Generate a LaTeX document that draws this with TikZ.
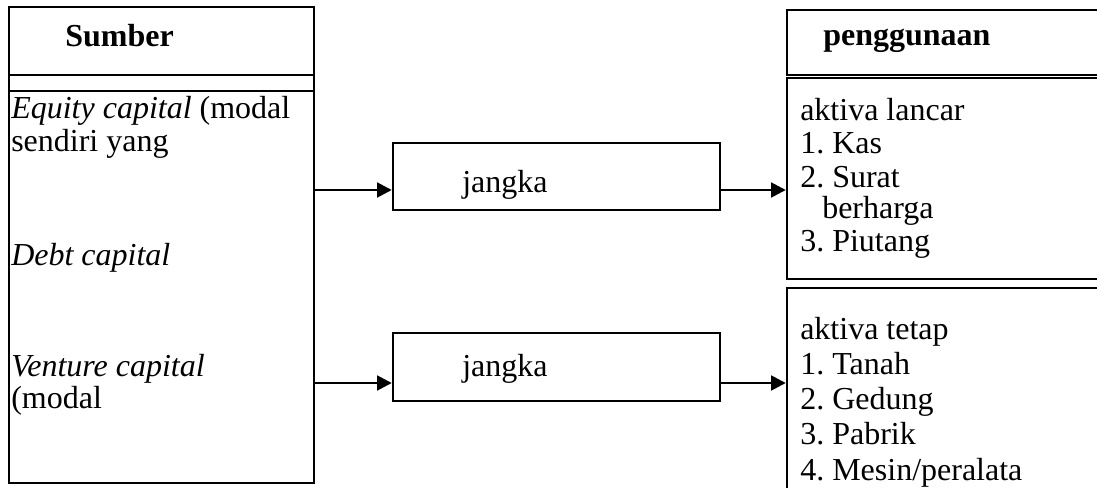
\documentclass[tikz,border=0pt]{standalone}
\usepackage{fontspec}
\setmainfont{Liberation Serif}
\usetikzlibrary{arrows.meta}
\frenchspacing

\tikzset{
  box/.style={draw=black, line width=1.8pt, inner sep=0pt, rectangle},
  conn/.style={line width=2pt, -{Triangle[length=11pt,width=11pt]}},
  txt/.style={anchor=base west, inner sep=0pt, font=\fontsize{24}{24}\selectfont},
  head/.style={txt, font=\fontsize{24}{24}\selectfont\bfseries},
}

\begin{document}
\begin{tikzpicture}[x=0.75pt, y=-0.75pt]
  \useasboundingbox (0,0) rectangle (1097,488);
  \clip (0,0) rectangle (1097,488);

  % rows where the connectors run
  \coordinate (row1) at (0,190);
  \coordinate (row2) at (0,383);

  % source column
  \node[box, minimum width=305*0.75pt, minimum height=476*0.75pt] (src) at (161.5,245) {};
  \draw[line width=1.8pt] (src.west |- 0,75) -- (src.east |- 0,75);
  \draw[line width=1.8pt] (src.west |- 0,91) -- (src.east |- 0,91);
  \node[head] (srchead) at (65,47) {Sumber};
  \node[txt] (s1) at (11,119) {\textit{Equity capital} (modal};
  \node[txt] (s2) at (11,152) {sendiri yang};
  \node[txt] (s3) at (11,266) {\textit{Debt capital}};
  \node[txt] (s4) at (11,377) {\textit{Venture capital}};
  \node[txt] (s5) at (11,409) {(modal};

  % term boxes
  \node[box, minimum width=327*0.75pt, minimum height=67*0.75pt] (mid1) at (556.5,176.5) {};
  \node[box, minimum width=327*0.75pt, minimum height=68*0.75pt] (mid2) at (556.5,367) {};
  \node[txt] (m1) at (462,193) {jangka};
  \node[txt] (m2) at (462,377) {jangka};

  % use column
  \node[box, minimum width=330*0.75pt, minimum height=269*0.75pt] (use1) at (952,144.5) {};
  \draw[line width=1.1pt, double, double distance=1.2pt] (use1.west |- 0,76.5) -- (use1.east |- 0,76.5);
  \node[head] (usehead) at (823,46) {penggunaan};
  \node[txt] (u1) at (800,121) {aktiva lancar};
  \node[txt] (u2) at (800,154) {1. Kas};
  \node[txt] (u3) at (800,188) {2. Surat};
  \node[txt] (u4) at (822,219) {berharga};
  \node[txt] (u5) at (800,252) {3. Piutang};

  \node[box, minimum width=330*0.75pt, minimum height=230*0.75pt] (use2) at (952,403) {};
  \node[txt] (v1) at (800,340) {aktiva tetap};
  \node[txt] (v2) at (800,375) {1. Tanah};
  \node[txt] (v3) at (800,410) {2. Gedung};
  \node[txt] (v4) at (800,445) {3. Pabrik};
  \node[txt] (v5) at (800,480) {4. Mesin/peralata};

  % connectors
  \draw[conn] (src.east |- row1) -- (mid1.west |- row1);
  \draw[conn] (src.east |- row2) -- (mid2.west |- row2);
  \draw[conn] (mid1.east |- row1) -- (use1.west |- row1);
  \draw[conn] (mid2.east |- row2) -- (use2.west |- row2);
\end{tikzpicture}
\end{document}
